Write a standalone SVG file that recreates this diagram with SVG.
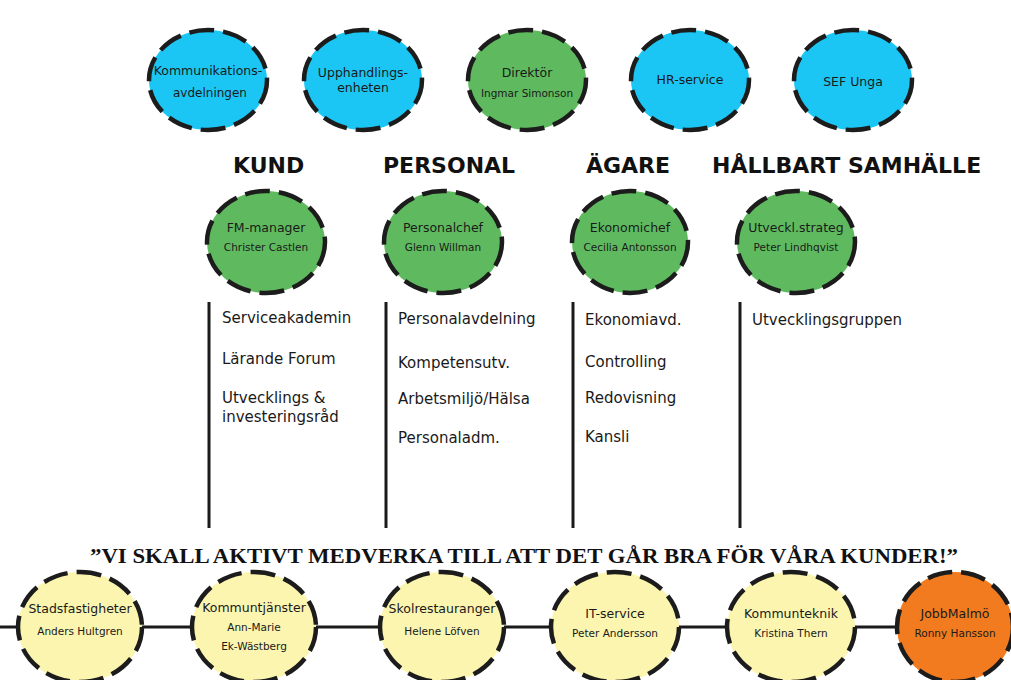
<svg xmlns="http://www.w3.org/2000/svg" width="1011" height="680" viewBox="0 0 1011 680">
<style>
.n{stroke:#1c1c1c;stroke-width:4.5;stroke-dasharray:25 9}
.b{fill:#1cc6f4}.g{fill:#5fba5f}.y{fill:#fbf5b0}.o{fill:#f27b1f}
text{font-family:"DejaVu Sans",Verdana,sans-serif;fill:#1a1a1a}
.t1{font-size:12.5px;text-anchor:middle}
.t2{font-size:10.5px;text-anchor:middle}
.h{font-size:22px;font-weight:bold;fill:#111}
.l{font-size:15px}
.c{stroke:#1a1a1a;stroke-width:3}
.q{font-family:"Liberation Serif","Times New Roman",serif;font-weight:bold;font-size:21px;fill:#111}
</style>
<rect width="1011" height="680" fill="#fff"/>
<g id="kommunikation"><ellipse class="n b" cx="208" cy="80" rx="59" ry="50"/><text class="t1" x="208" y="75" font-size="11.5px">Kommunikations-</text><text class="t1" x="210" y="97" style="font-size:12px">avdelningen</text></g>
<g id="upphandling"><ellipse class="n b" cx="363" cy="80" rx="59" ry="50"/><text class="t1" x="363" y="77">Upphandlings-</text><text class="t1" x="363" y="92">enheten</text></g>
<g id="direktor"><ellipse class="n g" cx="527" cy="80" rx="59" ry="50"/><text class="t1" x="527" y="77">Direktör</text><text class="t2" x="527" y="97">Ingmar Simonson</text></g>
<g id="hrservice"><ellipse class="n b" cx="690" cy="80" rx="59" ry="50"/><text class="t1" x="690" y="84">HR-service</text></g>
<g id="sefunga"><ellipse class="n b" cx="853" cy="80" rx="59" ry="50"/><text class="t1" x="853" y="86">SEF Unga</text></g>
<g id="headers">
<text class="h" x="233" y="173">KUND</text>
<text class="h" x="383" y="173">PERSONAL</text>
<text class="h" x="586" y="173">ÄGARE</text>
<text class="h" x="712" y="173">HÅLLBART SAMHÄLLE</text>
</g>
<g id="fmmanager"><ellipse class="n g" cx="266" cy="242" rx="59" ry="51"/><text class="t1" x="266" y="232">FM-manager</text><text class="t2" x="266" y="251">Christer Castlen</text></g>
<g id="personalchef"><ellipse class="n g" cx="443" cy="242" rx="59" ry="51"/><text class="t1" x="443" y="232">Personalchef</text><text class="t2" x="443" y="251">Glenn Willman</text></g>
<g id="ekonomichef"><ellipse class="n g" cx="630" cy="242" rx="58" ry="51"/><text class="t1" x="630" y="232">Ekonomichef</text><text class="t2" x="630" y="251">Cecilia Antonsson</text></g>
<g id="utveckl"><ellipse class="n g" cx="796" cy="242" rx="59" ry="51"/><text class="t1" x="796" y="232">Utveckl.strateg</text><text class="t2" x="796" y="251">Peter Lindhqvist</text></g>
<g id="connectors">
<line class="c" x1="209" y1="302" x2="209" y2="528"/>
<line class="c" x1="386" y1="302" x2="386" y2="528"/>
<line class="c" x1="573" y1="302" x2="573" y2="528"/>
<line class="c" x1="740" y1="302" x2="740" y2="528"/>
<line class="c" x1="0" y1="627" x2="1011" y2="627"/>
</g>
<g id="kund-list">
<text class="l" x="222" y="323">Serviceakademin</text>
<text class="l" x="222" y="364">Lärande Forum</text>
<text class="l" x="222" y="403">Utvecklings &amp;</text>
<text class="l" x="222" y="422">investeringsråd</text>
</g>
<g id="personal-list">
<text class="l" x="398" y="324">Personalavdelning</text>
<text class="l" x="398" y="368">Kompetensutv.</text>
<text class="l" x="398" y="404">Arbetsmiljö/Hälsa</text>
<text class="l" x="398" y="443">Personaladm.</text>
</g>
<g id="agare-list">
<text class="l" x="585" y="325">Ekonomiavd.</text>
<text class="l" x="585" y="367">Controlling</text>
<text class="l" x="585" y="403">Redovisning</text>
<text class="l" x="585" y="442">Kansli</text>
</g>
<g id="hallbart-list">
<text class="l" x="752" y="325">Utvecklingsgruppen</text>
</g>
<text class="q" x="90" y="563" textLength="868" lengthAdjust="spacingAndGlyphs">”VI SKALL AKTIVT MEDVERKA TILL ATT DET GÅR BRA FÖR VÅRA KUNDER!”</text>
<g id="stadsfastigheter"><ellipse class="n y" cx="80" cy="627" rx="62" ry="55"/><text class="t1" x="80" y="613">Stadsfastigheter</text><text class="t2" x="80" y="635">Anders Hultgren</text></g>
<g id="kommuntjanster"><ellipse class="n y" cx="254" cy="627" rx="62" ry="55"/><text class="t1" x="254" y="612">Kommuntjänster</text><text class="t2" x="254" y="631">Ann-Marie</text><text class="t2" x="254" y="650">Ek-Wästberg</text></g>
<g id="skolrestauranger"><ellipse class="n y" cx="442" cy="627" rx="62" ry="55"/><text class="t1" x="442" y="613">Skolrestauranger</text><text class="t2" x="442" y="635">Helene Löfven</text></g>
<g id="itservice"><ellipse class="n y" cx="615" cy="627" rx="64" ry="55"/><text class="t1" x="615" y="618">IT-service</text><text class="t2" x="615" y="637">Peter Andersson</text></g>
<g id="kommunteknik"><ellipse class="n y" cx="791" cy="627" rx="64" ry="55"/><text class="t1" x="791" y="618">Kommunteknik</text><text class="t2" x="791" y="637">Kristina Thern</text></g>
<g id="jobbmalmo"><ellipse class="n o" cx="955" cy="627" rx="58" ry="55"/><text class="t1" x="955" y="618">JobbMalmö</text><text class="t2" x="955" y="637">Ronny Hansson</text></g>
</svg>
